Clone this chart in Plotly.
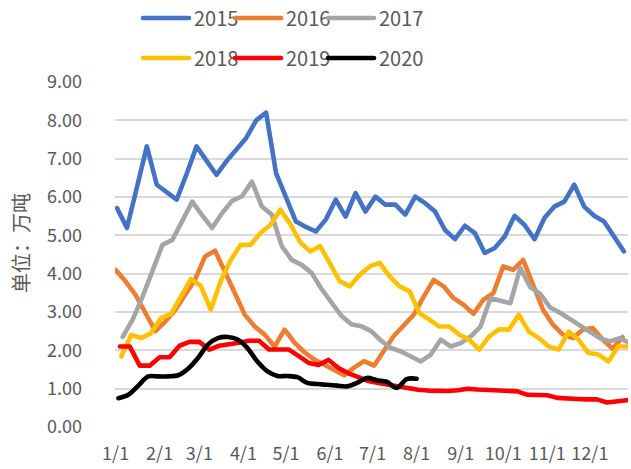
import pandas as pd
import plotly.graph_objects as go

# Weekly inventory, 10k tonnes (单位：万吨); each year uses its own weekly report dates,
# drawn on a shared month/day axis.
years = ["2015", "2016", "2017", "2018", "2019", "2020"]
first_day = {"2015": 2, "2016": 1, "2017": 6, "2018": 5, "2019": 4, "2020": 3}

v2015 = [5.71, 5.19, 6.25, 7.32, 6.32, 6.12, 5.93, 6.60, 7.32, 6.95, 6.58, 6.93, 7.23, 7.54,
         8.00, 8.20, 6.62, 6.01, 5.36, 5.22, 5.10, 5.41, 5.93, 5.49, 6.10, 5.62, 6.01, 5.80,
         5.80, 5.54, 6.01, 5.84, 5.62, 5.14, 4.90, 5.25, 5.06, 4.54, 4.67, 4.97, 5.51, 5.27,
         4.90, 5.45, 5.75, 5.88, 6.32, 5.75, 5.51, 5.36, 4.97, 4.58]
v2016 = [4.10, 3.80, 3.45, 2.95, 2.50, 2.75, 3.05, 3.45, 3.85, 4.45, 4.60, 4.05, 3.50, 2.93,
         2.62, 2.41, 2.10, 2.54, 2.20, 1.95, 1.76, 1.62, 1.49, 1.35, 1.55, 1.72, 1.60, 2.00,
         2.38, 2.65, 2.93, 3.40, 3.84, 3.67, 3.36, 3.19, 2.95, 3.32, 3.49, 4.19, 4.10, 4.36,
         3.67, 3.06, 2.67, 2.41, 2.32, 2.54, 2.58, 2.28, 2.04, 2.35]
v2017 = [2.35, 2.80, 3.40, 4.05, 4.75, 4.88, 5.35, 5.88, 5.52, 5.19, 5.58, 5.90, 6.02, 6.40,
         5.75, 5.54, 4.72, 4.36, 4.23, 4.02, 3.60, 3.25, 2.90, 2.68, 2.63, 2.50, 2.25, 2.06,
         1.97, 1.84, 1.71, 1.89, 2.28, 2.10, 2.19, 2.36, 2.62, 3.36, 3.30, 3.23, 4.15, 3.65,
         3.47, 3.12, 2.98, 2.82, 2.66, 2.47, 2.32, 2.23, 2.32, 2.19]
v2018 = [1.84, 2.40, 2.32, 2.45, 2.84, 2.95, 3.40, 3.86, 3.68, 3.06, 3.80, 4.35, 4.75, 4.75,
         5.06, 5.27, 5.67, 5.30, 4.82, 4.58, 4.72, 4.23, 3.80, 3.67, 3.97, 4.19, 4.28, 3.93,
         3.67, 3.54, 2.97, 2.80, 2.62, 2.62, 2.41, 2.28, 2.02, 2.36, 2.55, 2.54, 2.93, 2.49,
         2.32, 2.10, 2.02, 2.49, 2.28, 1.93, 1.89, 1.71, 2.10, 2.10]
v2019 = [2.10, 2.10, 1.60, 1.60, 1.82, 1.82, 2.12, 2.22, 2.22, 2.02, 2.12, 2.15, 2.20, 2.25,
         2.25, 2.02, 2.02, 2.02, 1.85, 1.67, 1.62, 1.75, 1.54, 1.40, 1.30, 1.20, 1.15, 1.10,
         1.06, 1.00, 0.97, 0.95, 0.93, 0.94, 0.96, 1.00, 0.98, 0.97, 0.96, 0.94, 0.93, 0.84,
         0.83, 0.83, 0.76, 0.73, 0.73, 0.72, 0.72, 0.64, 0.67, 0.70]
v2020 = [0.75, 0.84, 1.08, 1.32, 1.32, 1.32, 1.35, 1.52, 1.80, 2.15, 2.32, 2.35, 2.28, 2.05,
         1.70, 1.45, 1.33, 1.33, 1.30, 1.15, 1.12, 1.10, 1.08, 1.06, 1.15, 1.28, 1.22, 1.18,
         1.02, 1.25, 1.26]

values = {"2015": v2015, "2016": v2016, "2017": v2017,
          "2018": v2018, "2019": v2019, "2020": v2020}
colors = {"2015": "#4472C4", "2016": "#ED7D31", "2017": "#A5A5A5",
          "2018": "#FFC000", "2019": "#FF0000", "2020": "#000000"}

month_ticks = ["1/1", "2/1", "3/1", "4/1", "5/1", "6/1",
               "7/1", "8/1", "9/1", "10/1", "11/1", "12/1"]
y_ticks = [0, 1, 2, 3, 4, 5, 6, 7, 8, 9]

W, H = 631, 469
grey_text = "#595959"

# legend grid: three columns, two rows; one small legend per series
legend_cols = [138, 230, 323]
legend_rows = [18, 58]

fig = go.Figure()
legend_layout = {}
for i, yr in enumerate(years):
    vals = values[yr]
    # all years share one display year so the weeks line up by month/day
    dates = pd.date_range(f"2021-01-{first_day[yr]:02d}", periods=len(vals), freq="7D")
    leg_id = "legend" if i == 0 else f"legend{i + 1}"
    fig.add_trace(go.Scatter(
        x=dates, y=vals, mode="lines", name=yr,
        line=dict(color=colors[yr], width=4.6,
                  shape="spline" if yr == "2020" else "linear", smoothing=0.9),
        legend=leg_id, hoverinfo="skip",
    ))
    legend_layout[leg_id] = dict(
        orientation="h", xref="container", yref="container",
        xanchor="left", yanchor="middle",
        x=legend_cols[i % 3] / W, y=1 - legend_rows[i // 3] / H,
        font=dict(family="Noto Sans CJK SC", size=20, color=grey_text),
        bgcolor="rgba(0,0,0,0)", itemwidth=46,
    )

tick_dates = [f"2021-{i + 1:02d}-01" for i in range(12)]

fig.update_layout(
    width=W, height=H,
    margin=dict(l=115, r=3, t=82, b=42, autoexpand=False),
    paper_bgcolor="white", plot_bgcolor="white",
    font=dict(family="Noto Sans CJK SC", color=grey_text),
    showlegend=True,
    **legend_layout,
    xaxis=dict(
        type="date",
        range=["2020-12-31 13:55", "2021-12-27 20:24"],
        tickvals=tick_dates, ticktext=month_ticks,
        showgrid=False, zeroline=False, showline=False,
        ticks="", tickfont=dict(size=18, color=grey_text),
        ticklabelstandoff=14,
    ),
    yaxis=dict(
        range=[0, 9], tickvals=y_ticks,
        ticktext=[f"{v:.2f}" for v in y_ticks],
        showgrid=True, gridcolor="#D9D9D9", gridwidth=1.8,
        zeroline=False, showline=False, ticks="",
        tickfont=dict(size=18, color=grey_text),
        ticklabelstandoff=32,
    ),
    annotations=[dict(
        text="单位：万吨", textangle=-90,
        xref="paper", yref="paper",
        x=(20 - 115) / 513, y=(427 - 243) / 345,
        xanchor="center", yanchor="middle", showarrow=False,
        font=dict(family="Noto Sans CJK SC", size=20, color=grey_text),
    )],
)

round_joins = (
    "document.querySelectorAll('path.js-line').forEach(function(p){"
    "p.style.strokeLinejoin='round';p.style.strokeLinecap='round';});"
)
fig.write_html("out.html", post_script=round_joins)
